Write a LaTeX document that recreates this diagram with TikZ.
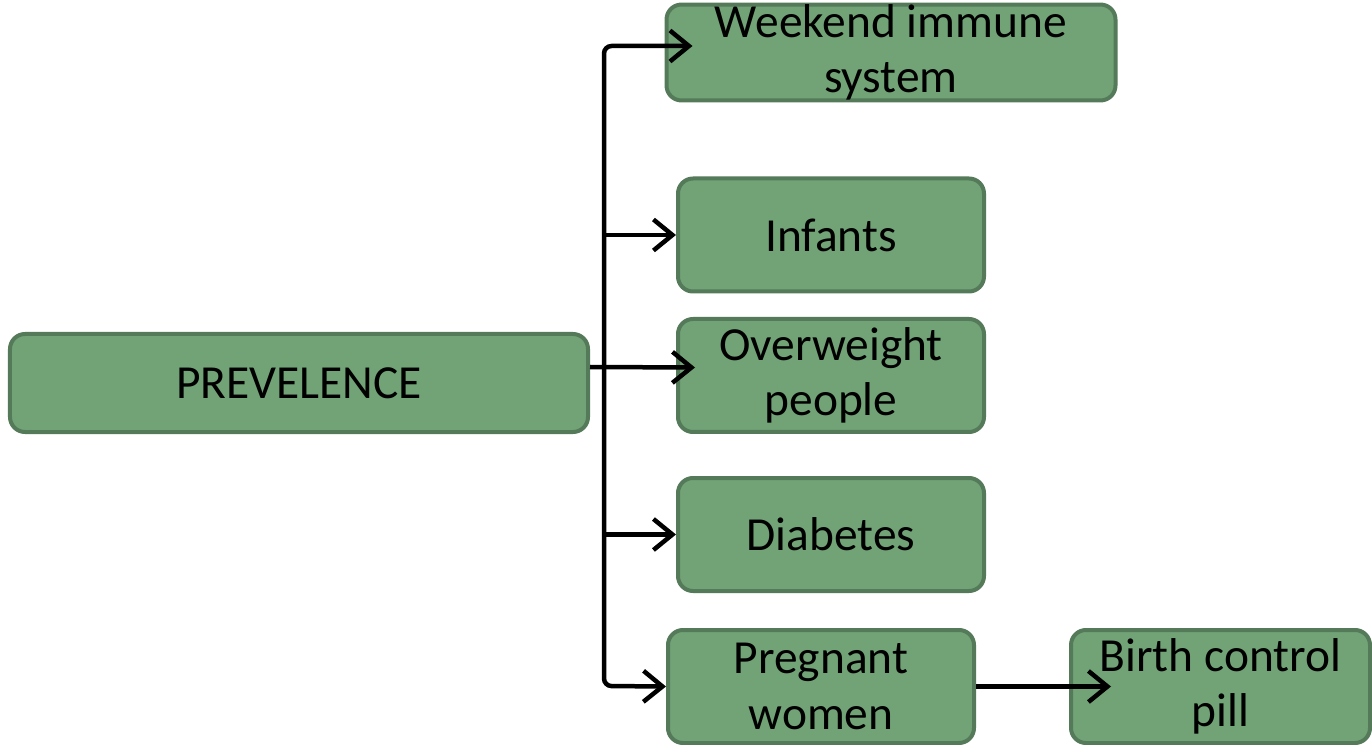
\documentclass[tikz,border=0pt]{standalone}
\usepackage{fontspec}
\setmainfont{Carlito}
\usepackage{tikz}
\usetikzlibrary{arrows.meta}
\definecolor{boxfill}{RGB}{113,163,118}
\definecolor{boxline}{RGB}{84,122,89}

\begin{document}
\begin{tikzpicture}[scale =1,
  >={Straight Barb[length=0.38cm, width=0.62cm]},
  box/.style={draw=boxline, fill=boxfill, line width=0.08cm, rounded corners=0.3cm,
    align=center, inner sep=0pt, font=\fontsize{27}{31.5}\selectfont},
  link/.style={line width=0.09cm, black}]
\useasboundingbox (0,0) rectangle (27.44,-14.9);
\node[box, minimum width=11.56cm, minimum height=1.96cm] (P0) at (5.98,-7.66)  {PREVELENCE};
\node[box, minimum width=8.98cm, minimum height=1.86cm] (A1) at (17.82,-1.05)  {Weekend immune\\system};
\node[box, minimum width=6.12cm, minimum height=2.26cm] (A2) at (16.62,-4.70)  {Infants};
\node[box, minimum width=6.12cm, minimum height=2.26cm] (A3) at (16.62,-7.51)  {Overweight\\people};
\node[box, minimum width=6.12cm, minimum height=2.26cm] (A4) at (16.62,-10.69)  {Diabetes};
\node[box, minimum width=6.12cm, minimum height=2.26cm] (A5) at (16.42,-13.73)  {Pregnant\\women};
\node[box, minimum width=5.98cm, minimum height=2.26cm] (B1) at (24.41,-13.73)  {Birth control\\pill};

\coordinate (T1) at (12.08,-0.92);
\coordinate (T2) at (12.08,-13.72);

\draw[link, <->, rounded corners=0.15cm, shorten <=-0.56cm] (T1 -| A1.west) -- (T1) -- (T2) -- (A5.west);
\draw[link, ->] (T1 |- A2.west) -- (A2.west);
\draw[link, ->] ([yshift=0.32cm]P0.east) -- ([yshift=0.16cm, xshift=0.38cm]A3.west);
\draw[link, ->] (T1 |- A4.west) -- (A4.west);
\draw[link, ->] (A5.east) -- ([xshift=0.84cm]B1.west);
\end{tikzpicture}
\end{document}
